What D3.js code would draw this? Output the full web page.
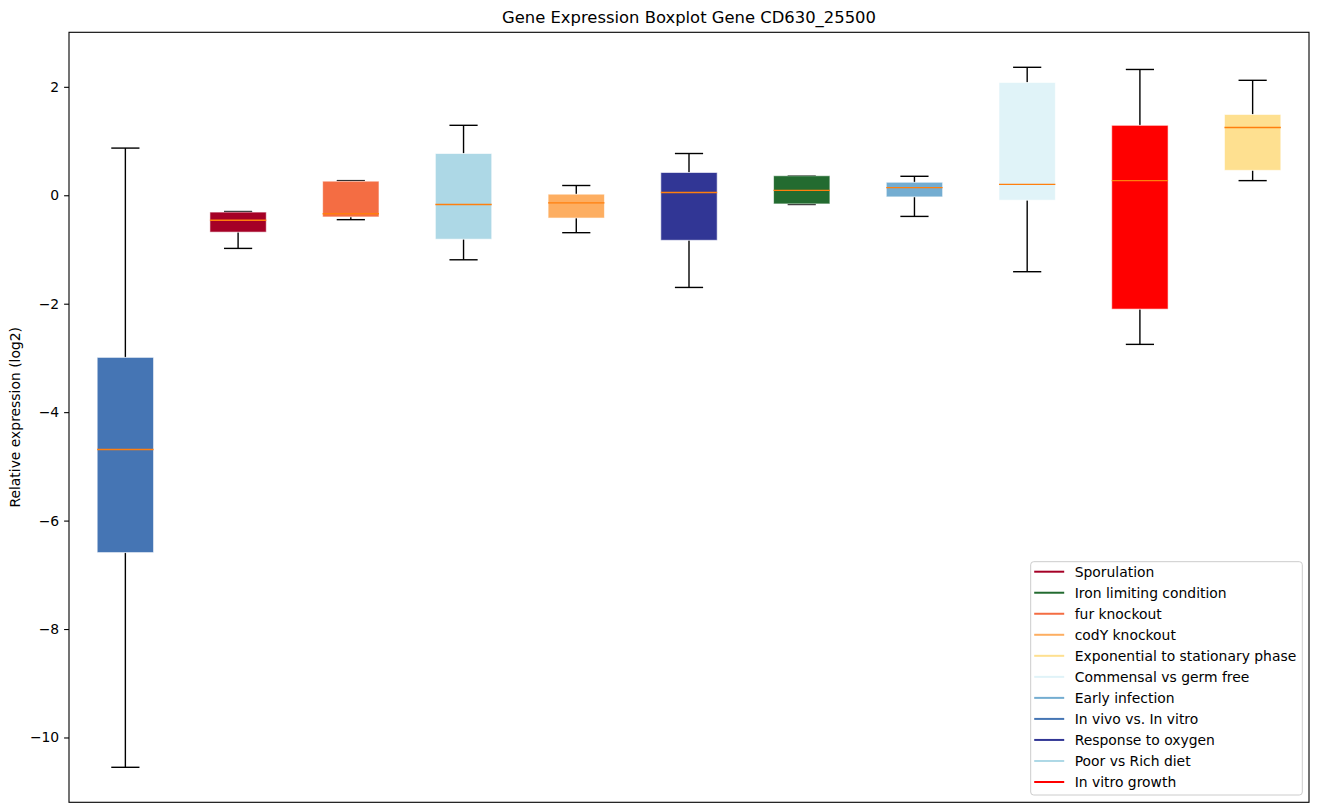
<!DOCTYPE html>
<html>
<head>
<meta charset="utf-8">
<script src="https://cdn.jsdelivr.net/npm/d3@7"></script>
<style>
  body { margin: 0; background: #fff; }
  svg { font-family: "DejaVu Sans", sans-serif; }
</style>
</head>
<body>
<svg id="chart" width="1318" height="812"></svg>
<script>
// boxes in plotting order
const categories = [
  "In vivo vs. In vitro", "Sporulation", "fur knockout", "Poor vs Rich diet",
  "codY knockout", "Response to oxygen", "Iron limiting condition",
  "Early infection", "Commensal vs germ free", "In vitro growth",
  "Exponential to stationary phase"
];
const whiskerLow  = [-10.55, -0.98, -0.45, -1.19, -0.69, -1.70, -0.17, -0.39, -1.41, -2.75, 0.27];
const q1          = [-6.59, -0.68, -0.40, -0.81, -0.42, -0.83, -0.16, -0.03, -0.09, -2.10, 0.46];
const median      = [-4.69, -0.46, -0.34, -0.17, -0.14, 0.05, 0.09, 0.14, 0.20, 0.27, 1.25];
const q3          = [-2.99, -0.31, 0.26, 0.77, 0.02, 0.42, 0.36, 0.24, 2.08, 1.29, 1.49];
const whiskerHigh = [0.87, -0.30, 0.27, 1.29, 0.18, 0.77, 0.36, 0.35, 2.36, 2.32, 2.12];

const legendOrder = [
  "Sporulation", "Iron limiting condition", "fur knockout", "codY knockout",
  "Exponential to stationary phase", "Commensal vs germ free", "Early infection",
  "In vivo vs. In vitro", "Response to oxygen", "Poor vs Rich diet", "In vitro growth"
];
const yTicks = [-10, -8, -6, -4, -2, 0, 2];

const boxColors = {
  "Sporulation": "#a50026",
  "Iron limiting condition": "#236b30",
  "fur knockout": "#f46d43",
  "codY knockout": "#fdae61",
  "Exponential to stationary phase": "#fee090",
  "Commensal vs germ free": "#e0f3f8",
  "Early infection": "#74add1",
  "In vivo vs. In vitro": "#4575b4",
  "Response to oxygen": "#313695",
  "Poor vs Rich diet": "#add8e6",
  "In vitro growth": "#ff0000"
};

const svg = d3.select("#chart");
const plotLeft = 69, plotRight = 1309, plotTop = 32.3, plotBottom = 802.3;

const rows = categories.map((c, i) => ({
  name: c, pos: i + 1,
  lo: whiskerLow[i], q1: q1[i], med: median[i], q3: q3[i], hi: whiskerHigh[i]
}));

const dmin = d3.min(whiskerLow), dmax = d3.max(whiskerHigh);
const pad = (dmax - dmin) * 0.05;
const y = d3.scaleLinear().domain([dmin - pad, dmax + pad]).range([plotBottom, plotTop]);
const x = d3.scaleLinear().domain([0.5, categories.length + 0.5]).range([plotLeft, plotRight]);

const boxW = x(1.25) - x(1);   // half box width in px
const capW = boxW / 2;

const plot = svg.append("g");

// whiskers and caps
const g = plot.selectAll("g.box").data(rows).join("g").attr("class", "box");
g.append("line")
  .attr("x1", d => x(d.pos)).attr("x2", d => x(d.pos))
  .attr("y1", d => y(d.q3)).attr("y2", d => y(d.hi))
  .attr("stroke", "#000").attr("stroke-width", 1.4);
g.append("line")
  .attr("x1", d => x(d.pos)).attr("x2", d => x(d.pos))
  .attr("y1", d => y(d.q1)).attr("y2", d => y(d.lo))
  .attr("stroke", "#000").attr("stroke-width", 1.4);
g.selectAll("line.cap")
  .data(d => [{ p: d.pos, v: d.hi }, { p: d.pos, v: d.lo }])
  .join("line").attr("class", "cap")
  .attr("x1", d => x(d.p) - capW).attr("x2", d => x(d.p) + capW)
  .attr("y1", d => y(d.v)).attr("y2", d => y(d.v))
  .attr("stroke", "#000").attr("stroke-width", 1.4);

// boxes
g.append("rect")
  .attr("x", d => x(d.pos) - boxW)
  .attr("width", boxW * 2)
  .attr("y", d => y(d.q3))
  .attr("height", d => y(d.q1) - y(d.q3))
  .attr("fill", d => boxColors[d.name])
  .attr("stroke", "#fff").attr("stroke-opacity", 0.6).attr("stroke-width", 1);

// medians
g.append("line")
  .attr("x1", d => x(d.pos) - boxW).attr("x2", d => x(d.pos) + boxW)
  .attr("y1", d => y(d.med)).attr("y2", d => y(d.med))
  .attr("stroke", "#ff7f0e").attr("stroke-width", 1.4);

// axis
const yAxis = d3.axisLeft(y).tickValues(yTicks)
  .tickSize(4.9).tickPadding(4.9)
  .tickFormat(d => String(d).replace("-", "\u2212"));
const ax = svg.append("g").attr("transform", `translate(${plotLeft},0)`).call(yAxis);
ax.select(".domain").remove();
ax.selectAll("line").attr("stroke", "#000").attr("stroke-width", 1.1);
ax.selectAll("text").attr("font-size", 13.9).attr("fill", "#000")
  .attr("font-family", "DejaVu Sans");

// frame
svg.append("rect")
  .attr("x", plotLeft).attr("y", plotTop)
  .attr("width", plotRight - plotLeft).attr("height", plotBottom - plotTop)
  .attr("fill", "none").attr("stroke", "#000").attr("stroke-width", 1.1);

// title and label
svg.append("text")
  .attr("x", (plotLeft + plotRight) / 2).attr("y", 23)
  .attr("text-anchor", "middle").attr("font-size", 16.4)
  .text("Gene Expression Boxplot Gene CD630_25500");
svg.append("text")
  .attr("transform", `translate(20,${(plotTop + plotBottom) / 2}) rotate(-90)`)
  .attr("text-anchor", "middle").attr("font-size", 13.9)
  .text("Relative expression (log2)");

// legend
const lg = svg.append("g").attr("transform", "translate(1030.7,561.7)");
lg.append("rect")
  .attr("width", 271.6).attr("height", 233.3).attr("rx", 3)
  .attr("fill", "#fff").attr("fill-opacity", 0.8)
  .attr("stroke", "#cccccc").attr("stroke-width", 1);
const item = lg.selectAll("g.item").data(legendOrder).join("g")
  .attr("class", "item")
  .attr("transform", (d, i) => `translate(0,${10 + i * 21.03})`);
item.append("line")
  .attr("x1", 3.5).attr("x2", 33.5)
  .attr("stroke", d => boxColors[d]).attr("stroke-width", 2);
item.append("text")
  .attr("x", 44).attr("dy", "0.36em")
  .attr("font-size", 13.9)
  .text(d => d);
</script>
</body>
</html>
